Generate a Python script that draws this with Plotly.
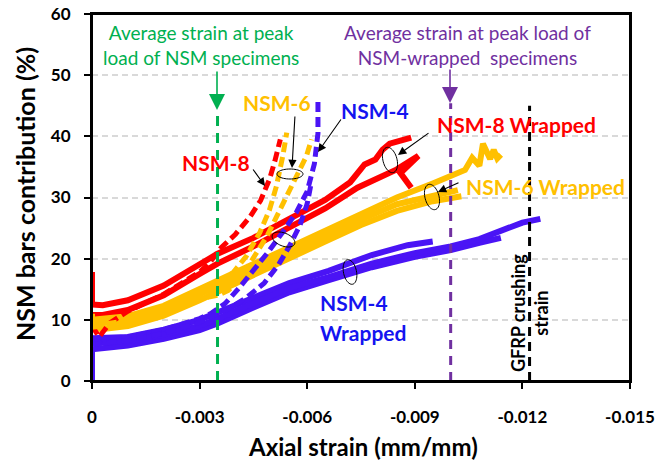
import numpy as np
import plotly.graph_objects as go

# ---------------- data ----------------
strain_ticks = [0, -0.003, -0.006, -0.009, -0.012, -0.015]
strain_tick_labels = ["0", "-0.003", "-0.006", "-0.009", "-0.012", "-0.015"]
contrib_ticks = [0, 10, 20, 30, 40, 50, 60]

# NSM-8 Wrapped (two specimens)
nsm8w_a_x = [0, 0, -0.0003, -0.001, -0.002, -0.003, -0.0035, -0.0045, -0.0055, -0.0065, -0.0072, -0.0076, -0.0079, -0.0081, -0.0083, -0.0086, -0.0089]
nsm8w_a_y = [17.8, 12.5, 12.4, 13.2, 15.6, 19.1, 20.8, 23.4, 26.6, 29.6, 32.5, 35.4, 36.2, 37.8, 38.8, 39.4, 39.8]
nsm8w_b_x = [0, -0.0003, -0.001, -0.002, -0.003, -0.0035, -0.0045, -0.0055, -0.0065, -0.0074, -0.0080, -0.0085, -0.0091, -0.0086, -0.0089, -0.0087]
nsm8w_b_y = [10.8, 10.8, 11.6, 14.0, 17.5, 19.2, 22.0, 25.0, 28.2, 31.6, 33.2, 34.6, 36.8, 34.0, 31.6, 33.2]

# NSM-6 Wrapped (three specimens)
nsm6w_a_x = [0, 0, -0.0003, -0.001, -0.002, -0.003, -0.0035, -0.0045, -0.0055, -0.0065, -0.0075, -0.0085, -0.0095, -0.0100, -0.0104, -0.0106, -0.0108, -0.0109, -0.0111, -0.0112, -0.0113, -0.0114]
nsm6w_a_y = [11.0, 10.0, 10.2, 10.6, 12.3, 15.0, 16.4, 19.0, 21.8, 24.6, 27.3, 30.0, 32.3, 33.6, 34.5, 36.5, 35.2, 38.8, 36.3, 37.8, 36.4, 37.0]
nsm6w_b_x = [0, -0.0003, -0.001, -0.002, -0.003, -0.0035, -0.0045, -0.0055, -0.0065, -0.0075, -0.0085, -0.0095, -0.0103]
nsm6w_b_y = [8.6, 8.5, 9.0, 10.7, 13.2, 14.6, 17.3, 20.0, 22.8, 25.5, 27.8, 29.4, 30.2]
nsm6w_c_x = [0, -0.001, -0.002, -0.003, -0.0035, -0.0045, -0.0055, -0.0065, -0.0075, -0.0085, -0.0095, -0.0102]
nsm6w_c_y = [9.3, 9.8, 11.5, 14.1, 15.5, 18.2, 20.9, 23.7, 26.4, 28.9, 30.4, 31.2]

# NSM-4 Wrapped (three specimens)
nsm4w_a_x = [0, -0.001, -0.002, -0.003, -0.0035, -0.0045, -0.0055, -0.0066, -0.0078, -0.0088, -0.0095]
nsm4w_a_y = [7.0, 7.2, 8.4, 10.0, 11.2, 13.7, 16.0, 18.0, 20.6, 22.2, 22.8]
nsm4w_b_x = [0, 0, -0.001, -0.002, -0.003, -0.0035, -0.0045, -0.0055, -0.0066, -0.0078, -0.009, -0.010, -0.0108, -0.0114]
nsm4w_b_y = [0, 5.2, 5.8, 6.9, 8.3, 9.4, 12.0, 14.5, 16.5, 18.6, 20.3, 21.4, 22.6, 23.4]
nsm4w_c_x = [0, -0.001, -0.002, -0.003, -0.0035, -0.0045, -0.0055, -0.0066, -0.0078, -0.009, -0.010, -0.0108, -0.0115, -0.0120, -0.0125]
nsm4w_c_y = [6.2, 6.5, 7.6, 9.0, 10.2, 12.7, 15.2, 17.0, 19.2, 20.9, 22.0, 23.2, 24.8, 25.9, 26.5]

# NSM-8 (unwrapped, dashed)
nsm8_x = [0, -0.0002, -0.0005, -0.001, -0.002, -0.003, -0.0033, -0.0036, -0.0040, -0.0044, -0.0047, -0.00495, -0.0051, -0.00525]
nsm8_y = [9.0, 7.2, 9.5, 11.4, 14.2, 17.8, 19.5, 21.8, 24.0, 26.8, 29.5, 33.0, 36.0, 39.5]

# NSM-6 (unwrapped, dashed, two specimens)
nsm6_a_x = [0, -0.001, -0.002, -0.003, -0.0035, -0.00393, -0.0043, -0.00468, -0.00495, -0.00514, -0.00532, -0.00543]
nsm6_a_y = [9.0, 9.9, 11.6, 14.3, 16.0, 17.7, 20.4, 24.3, 28.0, 31.8, 36.8, 40.6]
nsm6_b_x = [0, -0.001, -0.002, -0.003, -0.0035, -0.0038, -0.00412, -0.00448, -0.00487, -0.00515, -0.00543, -0.0057, -0.00598, -0.00612]
nsm6_b_y = [8.8, 9.5, 11.0, 13.4, 14.0, 14.8, 16.6, 19.8, 23.6, 26.9, 30.2, 33.5, 36.8, 39.5]

# NSM-4 (unwrapped, dashed, two specimens)
nsm4_a_x = [0, -0.001, -0.002, -0.003, -0.0033, -0.0037, -0.0041, -0.0045, -0.0049, -0.0053, -0.0057, -0.0060, -0.0062, -0.0063, -0.0063]
nsm4_a_y = [6.5, 7.2, 8.4, 10.2, 11.0, 12.6, 15.2, 18.0, 21.0, 24.2, 27.6, 31.0, 35.5, 40.5, 45.6]
nsm4_b_x = [0, -0.001, -0.002, -0.003, -0.0038, -0.0043, -0.0048, -0.0052, -0.0055, -0.0058, -0.0060, -0.0061]
nsm4_b_y = [6.0, 6.6, 7.8, 9.6, 11.8, 13.6, 16.0, 19.0, 22.0, 25.5, 29.0, 32.0]

# reference strains (vertical markers)
avg_nsm_strain = -0.0035
avg_nsm_top = 44.4
avg_wrapped_strain = -0.0100
avg_wrapped_top = 45.4
gfrp_crush_strain = -0.0122
gfrp_crush_top = 45.0

# ---------------- style ----------------
RED = "#FF0000"
ORANGE = "#FFC000"
BLUE = "#4A14F5"
BLUE_TXT = "#1414F0"
GREEN = "#00B050"
PURPLE = "#7030A0"
FONT = "Lato"

FIG_W, FIG_H = 661, 463
# plot-area geometry in window pixels (used to place annotations)
PL, PR, PT, PB = 92, 630, 14, 381
XMIN, XMAX, YMAX = 0.0, -0.015, 60.0


def px2x(px):
    return XMAX * (px - PL) / (PR - PL)


def py2y(py):
    return YMAX * (PB - py) / (PB - PT)


fig = go.Figure()


def solid(x, y, color):
    fig.add_trace(go.Scatter(x=x, y=y, mode="lines", line=dict(color=color, width=6),
                             showlegend=False, hoverinfo="skip"))


def dashed(x, y, color):
    fig.add_trace(go.Scatter(x=x, y=y, mode="lines",
                             line=dict(color=color, width=5, dash="10px,5px"),
                             showlegend=False, hoverinfo="skip"))


solid(nsm8w_a_x, nsm8w_a_y, RED)
solid(nsm8w_b_x, nsm8w_b_y, RED)
solid(nsm6w_a_x, nsm6w_a_y, ORANGE)
solid(nsm6w_b_x, nsm6w_b_y, ORANGE)
solid(nsm6w_c_x, nsm6w_c_y, ORANGE)
solid(nsm4w_a_x, nsm4w_a_y, BLUE)
solid(nsm4w_b_x, nsm4w_b_y, BLUE)
solid(nsm4w_c_x, nsm4w_c_y, BLUE)

dashed(nsm8_x, nsm8_y, RED)
dashed(nsm6_a_x, nsm6_a_y, ORANGE)
dashed(nsm6_b_x, nsm6_b_y, ORANGE)
dashed(nsm4_a_x, nsm4_a_y, BLUE)
dashed(nsm4_b_x, nsm4_b_y, BLUE)

for xs, top, col, dash in [(avg_nsm_strain, avg_nsm_top, GREEN, "10px,7px"),
                           (avg_wrapped_strain, avg_wrapped_top, PURPLE, "9px,7px"),
                           (gfrp_crush_strain, gfrp_crush_top, "black", "9px,6px")]:
    fig.add_trace(go.Scatter(x=[xs, xs], y=[0, top], mode="lines",
                             line=dict(color=col, width=3, dash=dash),
                             showlegend=False, hoverinfo="skip"))

annotations = []


def label(text, cx, cy, color, size=21, weight="bold", xanchor="center", angle=0):
    annotations.append(dict(x=px2x(cx), y=py2y(cy), xref="x", yref="y", text=text,
                            showarrow=False, xanchor=xanchor, yanchor="middle",
                            textangle=angle,
                            font=dict(family=FONT, size=size, color=color, weight=weight)))


def arrow(tx, ty, hx, hy, color="black", width=1.1, size=1.5):
    annotations.append(dict(x=px2x(hx), y=py2y(hy), ax=px2x(tx), ay=py2y(ty),
                            xref="x", yref="y", axref="x", ayref="y", text="",
                            showarrow=True, arrowhead=2, arrowsize=size,
                            arrowwidth=width, arrowcolor=color))


label("Average strain at peak<br>load of NSM specimens", 201, 45, GREEN, size=19, weight="normal")
label("Average strain at peak load of<br>NSM-wrapped  specimens", 467, 45, PURPLE, size=19, weight="normal")
label("NSM-6", 277, 102, ORANGE)
label("NSM-8", 216, 162, RED)
label("NSM-4", 375, 110, BLUE_TXT)
label("NSM-8 Wrapped", 516, 124, RED)
label("NSM-6 Wrapped", 545, 186, ORANGE)
label("NSM-4", 318, 302, BLUE_TXT, xanchor="left")
label("Wrapped", 318, 332, BLUE_TXT, xanchor="left")
label("GFRP crushing<br>strain", 529, 313, "black", size=18, angle=-90)

arrow(217, 70, 217, 110, GREEN, width=1.6, size=2.0)
arrow(450, 68, 450, 103, PURPLE, width=1.6, size=2.0)
arrow(295, 115, 292, 168)
arrow(252, 168, 265, 186)
arrow(342, 118, 318, 152)
arrow(430, 132, 398, 155)
arrow(460, 182, 438, 192)

# axis titles
annotations.append(dict(x=(363 - PL) / (PR - PL), y=(PB - 446) / (PB - PT), xref="paper", yref="paper",
                        text="Axial strain (mm/mm)", showarrow=False, xanchor="center", yanchor="middle",
                        font=dict(family=FONT, size=24, color="black", weight="bold")))
annotations.append(dict(x=(25 - PL) / (PR - PL), y=(PB - 194) / (PB - PT), xref="paper", yref="paper",
                        text="NSM bars contribution (%)", showarrow=False, xanchor="center", yanchor="middle",
                        textangle=-90,
                        font=dict(family=FONT, size=25, color="black", weight="bold")))


def ellipse_path(cx, cy, w, h, ang):
    t = np.linspace(0, 2 * np.pi, 49)
    a = np.radians(ang)
    ex, ey = w / 2 * np.cos(t), h / 2 * np.sin(t)
    xs = cx + ex * np.cos(a) - ey * np.sin(a)
    ys = cy + ex * np.sin(a) + ey * np.cos(a)
    pts = [f"{px2x(x):.7f},{py2y(y):.4f}" for x, y in zip(xs, ys)]
    return "M " + " L ".join(pts) + " Z"


shapes = []
for cx, cy, w, h, ang in [(290, 174, 26, 10, 0), (283.5, 239.5, 24, 13, 22),
                          (390, 160, 14, 26, -15), (432, 197, 14, 26, -15),
                          (350, 272, 13, 25, -12)]:
    shapes.append(dict(type="path", path=ellipse_path(cx, cy, w, h, ang), xref="x", yref="y",
                       line=dict(color="black", width=1), fillcolor="rgba(0,0,0,0)"))
# plot-area frame
shapes.append(dict(type="rect", xref="paper", yref="paper", x0=0, x1=1, y0=0, y1=1,
                   line=dict(color="black", width=2), fillcolor="rgba(0,0,0,0)", layer="above"))

fig.update_layout(
    width=FIG_W, height=FIG_H,
    margin=dict(l=PL, r=FIG_W - PR, t=PT, b=FIG_H - PB, autoexpand=False),
    paper_bgcolor="white", plot_bgcolor="white",
    font=dict(family=FONT, color="black"),
    showlegend=False,
    annotations=annotations,
    shapes=shapes,
    xaxis=dict(range=[XMIN, XMAX], tickvals=strain_ticks, ticktext=strain_tick_labels,
               automargin=False, ticklabeloverflow="allow",
               showgrid=False, zeroline=False, showline=True, linecolor="black", linewidth=2,
               mirror=True, ticks="outside", ticklen=6, tickwidth=1.5, tickcolor="black",
               ticklabelstandoff=14,
               tickfont=dict(family=FONT, size=17, color="black", weight="bold")),
    yaxis=dict(range=[0, YMAX], tickvals=contrib_ticks, automargin=False, ticklabeloverflow="allow",
               showgrid=True, gridcolor="#d9d9d9", gridwidth=1.5, griddash="6px,4px",
               zeroline=False, showline=True, linecolor="black", linewidth=2,
               mirror=True, ticks="outside", ticklen=6, tickwidth=1.5, tickcolor="black",
               ticklabelstandoff=10,
               tickfont=dict(family=FONT, size=17, color="black", weight="bold")),
)

# remove the default page margin so the figure fills the window exactly
fig.write_html("out.html", config={"displayModeBar": False},
               post_script="document.body.style.margin='0';document.body.style.overflow='hidden';")
